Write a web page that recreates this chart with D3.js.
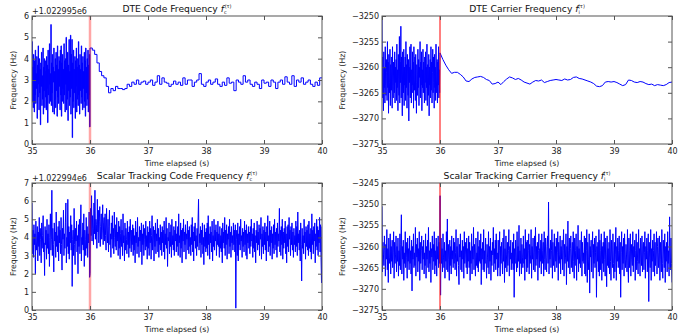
<!DOCTYPE html>
<html>
<head>
<meta charset="utf-8">
<script src="https://cdn.jsdelivr.net/npm/d3@7"></script>
<style>
  body { margin: 0; background: #fff; }
  svg { display: block; font-family: "DejaVu Sans", sans-serif; }
</style>
</head>
<body>
<svg id="chart" width="694" height="335"></svg>
<script>
// ---- data ----
const timeTicks = [35, 36, 37, 38, 39, 40];
const eventTime = 36;
const codeTicksTop = [0, 1, 2, 3, 4, 5, 6];
const codeTicksBottom = [0, 1, 2, 3, 4, 5, 6, 7];
const carrierTicksTop = [-3275, -3270, -3265, -3260, -3255, -3250];
const carrierTicksBottom = [-3275, -3270, -3265, -3260, -3255, -3250, -3245];

// DTE code frequency (offset +1.022995e6), 35-36 s before DTE starts
const dteCodeNoise = [
  4.8, 2.0, 3.6, 1.7, 4.2, 2.9, 1.5, 3.9, 2.3, 4.4, 1.9, 3.3, 2.6, 4.1, 1.2, 3.7, 2.2, 4.6, 2.8, 1.6,
  4.0, 2.4, 3.5, 0.9, 3.8, 2.7, 4.3, 1.8, 3.2, 2.1, 4.5, 1.4, 3.6, 2.5, 4.0, 1.7, 3.9, 2.2, 3.4, 1.6,
  4.1, 2.6, 3.7, 1.0, 4.4, 2.3, 3.5, 1.9, 4.7, 2.8, 3.3, 2.0, 5.6, 1.8, 3.8, 2.4, 4.2, 1.5, 3.6, 2.9,
  4.5, 1.4, 3.4, 2.1, 4.0, 1.7, 4.3, 2.5, 3.7, 1.3, 4.6, 2.2, 3.5, 1.9, 4.1, 2.7, 3.9, 1.6, 4.4, 2.3,
  4.6, 1.3, 3.8, 2.0, 4.2, 2.6, 3.5, 1.9, 4.7, 2.3, 3.9, 1.5, 4.0, 2.8, 5.0, 1.6, 3.6, 2.1, 4.3, 1.1,
  3.7, 2.5, 4.9, 1.8, 3.4, 2.2, 5.1, 1.4, 4.2, 2.6, 4.9, 0.3, 3.8, 2.0, 4.4, 1.7, 3.5, 2.4, 4.1, 1.2,
  3.9, 2.7, 4.5, 1.5, 3.6, 2.1, 4.0, 1.8, 4.8, 2.3, 3.7, 1.4, 4.2, 2.5, 3.5, 1.9, 4.6, 2.2, 3.8, 1.6,
  4.1, 2.6, 3.4, 1.7, 4.3, 2.0, 3.9, 1.3, 4.5, 2.4, 3.6, 1.8, 4.0, 2.1, 4.4, 1.5, 3.7, 2.3, 4.2, 0.8
];
// DTE code frequency, 36-40 s
const dteCodeTrack = [
  4.5, 4.4, 4.2, 3.8, 3.4, 3.2, 3.1, 2.7, 2.4, 2.6, 2.5, 2.7, 2.6, 2.6, 2.55, 2.6, 2.8, 2.7, 2.9, 2.8,
  3.0, 2.8, 2.9, 2.95, 2.8, 2.9, 3.0, 2.75, 2.9, 3.2, 2.8, 3.1, 2.9, 2.85, 2.7, 2.8, 2.95, 2.8, 2.9, 2.75,
  3.1, 2.8, 3.0, 3.0, 2.7, 2.9, 3.0, 3.3, 2.8, 2.7, 2.9, 3.0, 2.8, 2.9, 3.05, 2.8, 2.7, 2.9, 2.75, 3.1,
  2.85, 2.9, 2.5, 3.0, 2.9, 2.8, 3.2, 2.9, 3.0, 2.8, 2.7, 2.9, 2.8, 2.6, 3.0, 2.85, 2.9, 2.7, 3.0, 2.9,
  2.6, 2.9, 3.0, 2.8, 3.15, 2.9, 2.8, 3.2, 2.7, 3.0, 2.9, 3.1, 2.8, 2.9, 3.0, 2.8, 2.7, 2.9, 2.75, 3.1, 3.1
];

// DTE carrier frequency, 35-36 s
const dteCarrierNoise = [
  -3250.5, -3266, -3258, -3263, -3268.5, -3257, -3264, -3260, -3267, -3256, -3263.5, -3265.5, -3258.5, -3261, -3266.5, -3255, -3264, -3259, -3269, -3257.5,
  -3263, -3265, -3256.5, -3267.5, -3259.5, -3262, -3264.5, -3258, -3268, -3256, -3263.5, -3266, -3259, -3261.5, -3265, -3257, -3267, -3260, -3263, -3258.5,
  -3266.5, -3255.5, -3264, -3260.5, -3268.5, -3257.5, -3262.5, -3265.5, -3254, -3267, -3259, -3263, -3252, -3266, -3258, -3264.5, -3269.5, -3257, -3262, -3265,
  -3256.5, -3267.5, -3260, -3263.5, -3258, -3266.5, -3255, -3264, -3259.5, -3268, -3257.5, -3262.5, -3265.5, -3258.5, -3270.5, -3260, -3263, -3256, -3266, -3259,
  -3255.5, -3267, -3260.5, -3263.5, -3257, -3265, -3259, -3268, -3256, -3262.5, -3264.5, -3258, -3266.5, -3257.5, -3263, -3269, -3259.5, -3261.5, -3265.5, -3256.5,
  -3264, -3258.5, -3267.5, -3260, -3262, -3255, -3266, -3259, -3263.5, -3257, -3268.5, -3260.5, -3264, -3256.5, -3265, -3259, -3262.5, -3267, -3258, -3263,
  -3257, -3266.5, -3260, -3264, -3255.5, -3267.5, -3259.5, -3262, -3265.5, -3257.5, -3269.5, -3260, -3263.5, -3258.5, -3266, -3256, -3264.5, -3259, -3267, -3261,
  -3256.5, -3265, -3258, -3263, -3268, -3257.5, -3264, -3260, -3266.5, -3255.5, -3262.5, -3265, -3258.5, -3267, -3259, -3263.5, -3256, -3266, -3260.5, -3265
];
// DTE carrier frequency, 36-40 s
const dteCarrierTrack = [
  -3257.2, -3258.5, -3259.6, -3260.5, -3261.2, -3261.0, -3261.0, -3261.4, -3261.9, -3262.7, -3262.8, -3262.3, -3262.0, -3261.9, -3261.8, -3262.0, -3262.4, -3262.6, -3263.3, -3263.2,
  -3262.9, -3263.4, -3262.8, -3262.3, -3261.9, -3262.1, -3262.4, -3262.2, -3262.5, -3262.9, -3263.1, -3263.3, -3262.9, -3262.6, -3262.7, -3262.5, -3263.0, -3262.8, -3262.6, -3262.5,
  -3262.4, -3262.5, -3262.6, -3262.3, -3262.5, -3262.4, -3262.0, -3261.9, -3262.2, -3262.3, -3262.5, -3262.7, -3262.9, -3263.2, -3263.7, -3263.8, -3263.6, -3262.9, -3262.8, -3262.9,
  -3262.8, -3263.0, -3263.3, -3263.6, -3263.4, -3262.5, -3262.6, -3262.9, -3263.0, -3262.8, -3262.9, -3263.2, -3263.4, -3263.3, -3263.6, -3263.4, -3263.5, -3263.6, -3263.4, -3263.0, -3262.9
];

// Scalar tracking code frequency (offset +1.022994e6), 35-40 s
const scalarCode = [
  5.9, 3.1, 4.4, 2.9, 4.7, 3.6, 4.2, 2.0, 4.9, 3.3, 3.8, 4.6, 2.7, 4.3, 3.5, 5.1, 3.0, 4.5, 3.9, 2.6, 4.8, 3.4, 4.1, 5.2, 3.2, 3.7, 1.9, 4.6, 3.6, 4.4,
  2.8, 5.0, 3.4, 4.2, 3.1, 4.7, 2.4, 4.0, 5.3, 3.3, 3.9, 6.6, 3.0, 4.5, 3.6, 2.1, 4.8, 3.8, 4.3, 2.9, 5.4, 3.5, 4.1, 3.2, 4.6, 2.7, 4.9, 3.7, 4.4, 3.1,
  5.1, 3.6, 2.2, 4.5, 3.9, 5.5, 3.0, 4.2, 3.4, 4.8, 5.9, 2.6, 4.0, 3.5, 6.1, 3.1, 4.6, 2.8, 4.3, 3.7, 5.2, 3.3, 4.7, 1.3, 3.9, 4.4, 3.0, 5.6, 3.6, 2.5,
  4.5, 3.8, 4.9, 3.2, 4.1, 2.0, 4.7, 3.5, 5.0, 3.1, 4.3, 5.8, 2.7, 4.0, 3.6, 4.8, 3.3, 5.3, 2.4, 4.4, 3.9, 3.0, 5.1, 3.4, 4.6, 2.9, 4.2, 3.7, 5.4, 1.8,
  2.0, 5.6, 4.1, 6.3, 3.8, 5.2, 4.5, 3.6, 5.9, 4.2, 6.6, 3.9, 5.0, 4.7, 3.4, 6.1, 4.3, 5.5, 3.7, 4.9, 5.7, 3.5, 4.6, 5.3, 3.9, 4.4, 5.8, 3.6, 4.8, 5.1,
  3.8, 5.3, 4.1, 3.3, 5.6, 4.4, 3.7, 5.0, 3.2, 4.6, 5.5, 3.6, 4.2, 2.9, 4.8, 3.9, 5.2, 3.4, 4.5, 3.1, 5.4, 4.0, 3.5, 4.7, 3.3, 5.1, 3.8, 4.3, 3.0, 4.9,
  3.4, 4.6, 2.8, 4.2, 5.0, 3.5, 4.4, 3.0, 5.3, 3.7, 4.1, 2.7, 4.8, 3.3, 4.5, 3.9, 3.1, 4.9, 3.6, 4.3, 2.9, 4.6, 3.4, 5.0, 3.8, 3.2, 4.4, 3.6, 4.7, 3.0,
  4.5, 3.3, 4.1, 2.6, 4.9, 3.7, 4.3, 3.1, 5.1, 3.5, 4.0, 2.9, 4.6, 3.8, 4.4, 3.2, 4.8, 2.5, 4.2, 3.6, 4.7, 3.0, 4.5, 3.9, 3.3, 4.9, 3.5, 4.1, 2.8, 4.6,
  3.4, 4.3, 3.0, 4.9, 3.7, 4.5, 2.8, 4.1, 5.2, 3.3, 3.9, 4.6, 2.7, 4.4, 3.5, 4.8, 3.1, 4.2, 3.8, 5.0, 3.2, 4.5, 2.9, 4.0, 3.6, 4.7, 3.3, 4.3, 3.0, 4.6,
  3.7, 4.4, 3.2, 4.9, 2.8, 4.2, 3.6, 5.1, 3.4, 4.5, 2.4, 4.0, 3.8, 4.8, 3.1, 4.3, 3.5, 4.7, 2.9, 5.0, 3.6, 4.1, 3.3, 4.6, 3.0, 4.4, 3.8, 4.9, 3.2, 4.2,
  3.5, 4.6, 3.0, 5.3, 3.7, 4.1, 2.9, 4.8, 3.4, 4.4, 2.6, 4.5, 3.8, 5.0, 3.2, 4.3, 3.6, 4.7, 2.8, 4.2, 3.9, 4.9, 3.3, 4.4, 3.1, 4.6, 3.5, 4.0, 3.0, 4.7,
  3.6, 5.1, 3.2, 4.3, 2.7, 4.6, 3.8, 4.8, 3.4, 4.1, 3.0, 4.5, 3.5, 4.9, 6.1, 3.3, 4.2, 3.7, 4.6, 2.9, 4.4, 3.6, 4.8, 3.1, 4.0, 2.5, 4.7, 3.5, 4.3, 3.2,
  4.5, 3.4, 4.8, 3.0, 5.2, 3.6, 4.2, 2.8, 4.6, 3.7, 4.3, 3.2, 4.9, 2.7, 4.1, 3.5, 5.0, 3.3, 4.4, 3.8, 4.7, 3.0, 4.3, 3.6, 4.9, 3.5, 4.2, 2.9, 4.6, 3.4,
  4.1, 3.2, 4.5, 2.6, 4.8, 3.7, 4.3, 3.4, 5.1, 3.0, 4.4, 3.6, 4.7, 2.8, 4.2, 3.9, 4.6, 3.1, 5.0, 3.5, 4.3, 2.9, 4.6, 3.7, 4.1, 3.3, 4.8, 3.6, 4.4, 3.2,
  4.7, 0.1, 3.9, 4.4, 3.0, 4.8, 2.7, 4.2, 3.6, 4.6, 3.3, 5.0, 3.8, 4.1, 2.9, 4.5, 3.5, 4.3, 3.2, 4.9, 3.6, 4.4, 3.0, 4.7, 2.8, 4.2, 3.7, 4.6, 3.4, 4.3,
  3.1, 4.6, 3.5, 5.0, 3.8, 4.2, 2.9, 4.5, 3.4, 4.8, 3.2, 4.1, 2.6, 4.4, 3.7, 4.9, 3.3, 4.3, 3.6, 4.7, 3.0, 4.5, 3.9, 5.1, 2.8, 4.2, 3.5, 4.6, 3.1, 4.4,
  3.6, 4.8, 3.3, 4.3, 2.7, 4.6, 3.8, 5.2, 3.2, 4.1, 3.5, 4.9, 3.0, 4.4, 3.7, 4.6, 2.8, 4.2, 3.4, 4.7, 3.1, 5.0, 3.6, 4.3, 3.3, 4.5, 2.9, 4.8, 3.5, 4.2,
  3.8, 5.6, 3.2, 4.4, 3.0, 4.6, 3.6, 5.0, 2.8, 4.3, 3.4, 4.5, 3.7, 4.9, 3.1, 4.2, 2.6, 4.6, 3.5, 4.7, 3.2, 5.1, 3.9, 4.4, 3.0, 4.6, 3.6, 4.8, 3.3, 4.3,
  2.9, 4.5, 3.6, 4.1, 3.2, 4.9, 3.5, 4.6, 3.0, 5.4, 3.7, 4.2, 3.3, 4.4, 2.7, 4.8, 3.6, 1.6, 4.5, 3.4, 4.1, 3.1, 5.0, 3.7, 4.3, 2.8, 4.6, 3.5, 4.4, 3.3,
  4.7, 3.0, 4.9, 3.4, 4.2, 3.2, 4.5, 2.8, 5.3, 3.6, 4.4, 3.1, 4.6, 3.8, 4.8, 2.6, 4.2, 3.5, 5.0, 3.3, 4.6, 3.0, 4.4, 3.7, 5.1, 3.2, 4.7, 2.9, 1.5, 4.6
];

// Scalar tracking carrier frequency, 35-40 s
const scalarCarrier = [
  -3250.5, -3266, -3259, -3262, -3264.5, -3257.5, -3261, -3267, -3259.5, -3263, -3256, -3265.5, -3260.5, -3268.5, -3258, -3262.5, -3264, -3257, -3266.5, -3260, -3263.5, -3258.5, -3265, -3261.5, -3256.5, -3267.5, -3259, -3264, -3262, -3257.5,
  -3266, -3260, -3263.5, -3258, -3267, -3261, -3264.5, -3257, -3265.5, -3259.5, -3252.5, -3266.5, -3260, -3263, -3258.5, -3268, -3261.5, -3264, -3256.5, -3265, -3259, -3262.5, -3267.5, -3258, -3263.5, -3260.5, -3265.5, -3257.5, -3264, -3261,
  -3266.5, -3258.5, -3270.5, -3260, -3263, -3257, -3265, -3261.5, -3264.5, -3255.5, -3267, -3259.5, -3262.5, -3258, -3266, -3260.5, -3263.5, -3256.5, -3268, -3259, -3264, -3261, -3257.5, -3265.5, -3260, -3263, -3258.5, -3266.5, -3261.5, -3264.5,
  -3257, -3267.5, -3260, -3263, -3258.5, -3265, -3255.5, -3266, -3261, -3264, -3259, -3268.5, -3260.5, -3262.5, -3257.5, -3265.5, -3259.5, -3263.5, -3256.5, -3266.5, -3261, -3264.5, -3258, -3267, -3260, -3263, -3257.5, -3265, -3259, -3264,
  -3248, -3271.5, -3258, -3264, -3260.5, -3266, -3257, -3262.5, -3265, -3259, -3267.5, -3261, -3263.5, -3256.5, -3265.5, -3253.5, -3266, -3259.5, -3263, -3268, -3258.5, -3264.5, -3260, -3266.5, -3257.5, -3263, -3261, -3265, -3258, -3264,
  -3259, -3265.5, -3261.5, -3256, -3267, -3260, -3263.5, -3258, -3264.5, -3269, -3259.5, -3262.5, -3257, -3265.5, -3261, -3266, -3258.5, -3263, -3260, -3267.5, -3256.5, -3264, -3259, -3262, -3265, -3258, -3266.5, -3260.5, -3263.5, -3257.5,
  -3265, -3259, -3268, -3261, -3264, -3257, -3266.5, -3260, -3263, -3255.5, -3265.5, -3259.5, -3262.5, -3267, -3258, -3264.5, -3261.5, -3265, -3256.5, -3266, -3260, -3263.5, -3258.5, -3264, -3257, -3269, -3260.5, -3263, -3259, -3265.5,
  -3256, -3266, -3261, -3264, -3258, -3263, -3267.5, -3259.5, -3262.5, -3265, -3256.5, -3266.5, -3260, -3263.5, -3258, -3268, -3261, -3264.5, -3259, -3262, -3255.5, -3266, -3260.5, -3264, -3258.5, -3265.5, -3257, -3263, -3261.5, -3267,
  -3258.5, -3265, -3261, -3256.5, -3267, -3260, -3264, -3259, -3262.5, -3266.5, -3258, -3263.5, -3256, -3268.5, -3260.5, -3265, -3257.5, -3262, -3266, -3259, -3264.5, -3261, -3256, -3267, -3260, -3263, -3258.5, -3265.5, -3261.5, -3264,
  -3259, -3265.5, -3257, -3272, -3260.5, -3264, -3258.5, -3262.5, -3266, -3256.5, -3265, -3260, -3263.5, -3255, -3267, -3261, -3264, -3258, -3266.5, -3259.5, -3262.5, -3265, -3257.5, -3264, -3260.5, -3268, -3256, -3263, -3259, -3266,
  -3258.5, -3265, -3261, -3257, -3266.5, -3259.5, -3264, -3262, -3256, -3267.5, -3260, -3263, -3258, -3265.5, -3261.5, -3257.5, -3266, -3255.5, -3264.5, -3260, -3263, -3259, -3268, -3261, -3257, -3265, -3260.5, -3263.5, -3258.5, -3266.5,
  -3257, -3264, -3261, -3259, -3267, -3256.5, -3263, -3265.5, -3258, -3262.5, -3266, -3260, -3257.5, -3264, -3249.5, -3266.5, -3260.5, -3263, -3258.5, -3265, -3261, -3256, -3267.5, -3259, -3264.5, -3262, -3257, -3266, -3260, -3263.5,
  -3258, -3265, -3261.5, -3256.5, -3268, -3259, -3264, -3262, -3257.5, -3266.5, -3260, -3263, -3258.5, -3265.5, -3261, -3256, -3267, -3259.5, -3264, -3262.5, -3257, -3269, -3260, -3263.5, -3254, -3265, -3261, -3258, -3266.5, -3260.5,
  -3257.5, -3265, -3262, -3259, -3266, -3256.5, -3263.5, -3267.5, -3258, -3264.5, -3261, -3257, -3268, -3260, -3263, -3255, -3266, -3260.5, -3264, -3258.5, -3265, -3262, -3256.5, -3267, -3259, -3263.5, -3261.5, -3264, -3257.5, -3266.5,
  -3258, -3267, -3261, -3256, -3268.5, -3259, -3263, -3265.5, -3257, -3271, -3260, -3262.5, -3258.5, -3266, -3261, -3256.5, -3267.5, -3259.5, -3264, -3258, -3265, -3261.5, -3257.5, -3272, -3260, -3263.5, -3259, -3266, -3256, -3267,
  -3258.5, -3265.5, -3261, -3257, -3268, -3260, -3264, -3259, -3266, -3256.5, -3263, -3267, -3258, -3262, -3269.5, -3257.5, -3264.5, -3260.5, -3265, -3259, -3266.5, -3256, -3263.5, -3268, -3258.5, -3262.5, -3265, -3257, -3264, -3267.5,
  -3259, -3266, -3262, -3255.5, -3268, -3260, -3263.5, -3258, -3265, -3261, -3257.5, -3266.5, -3259, -3272, -3261.5, -3256.5, -3265.5, -3260, -3264, -3258, -3267, -3257, -3263, -3265, -3259.5, -3262, -3266, -3256, -3264.5, -3268.5,
  -3258, -3265, -3261, -3257, -3267, -3259.5, -3263, -3264.5, -3256.5, -3266, -3260, -3262.5, -3258.5, -3268, -3261, -3257, -3265.5, -3259, -3263.5, -3266.5, -3256, -3264, -3260.5, -3267, -3258, -3262, -3264.5, -3257.5, -3266, -3260,
  -3259, -3265.5, -3261.5, -3256.5, -3267.5, -3260, -3263, -3258, -3266, -3261, -3257, -3273, -3259, -3262.5, -3265, -3256, -3268, -3260.5, -3263.5, -3258.5, -3266, -3261, -3257, -3267, -3259, -3264.5, -3262, -3256.5, -3266.5, -3260,
  -3258, -3265, -3261.5, -3257.5, -3268, -3259, -3263, -3266, -3256, -3264, -3267.5, -3258.5, -3262, -3265, -3257, -3268.5, -3260, -3263.5, -3259, -3266, -3256.5, -3264, -3261, -3267, -3253, -3262.5, -3265.5, -3258, -3264, -3268.5
];

// ---- helpers ----
// spread samples evenly between t0 and t1 (endpoint optional)
function samples(vals, t0, t1, inclusiveEnd) {
  const n = inclusiveEnd ? vals.length - 1 : vals.length;
  return vals.map((v, i) => ({t: t0 + i * (t1 - t0) / n, v: v}));
}

const panels = [
  {
    box: {left: 32, right: 322, top: 16, bottom: 144},
    yDomain: [0, 6], yTicks: codeTicksTop,
    title: "DTE Code Frequency ", sub: "c", offset: "+1.022995e6",
    data: samples(dteCodeNoise, 35, 36, false).concat(samples(dteCodeTrack, 36, 40, true)),
    curve: d3.curveStepAfter, marker: {color: "#ff0000", opacity: 0.35, width: 2.5}
  },
  {
    box: {left: 382, right: 672, top: 16, bottom: 144},
    yDomain: [-3275, -3250], yTicks: carrierTicksTop,
    title: "DTE Carrier Frequency ", sub: "i", offset: null,
    data: samples(dteCarrierNoise, 35, 36, false).concat(samples(dteCarrierTrack, 36, 40, true)),
    curve: d3.curveLinear, marker: {color: "#ff0000", opacity: 1, width: 1}
  },
  {
    box: {left: 32, right: 322, top: 183, bottom: 310},
    yDomain: [0, 7], yTicks: codeTicksBottom,
    title: "Scalar Tracking Code Frequency ", sub: "c", offset: "+1.022994e6",
    data: samples(scalarCode, 35, 40, true),
    curve: d3.curveLinear, marker: {color: "#ff0000", opacity: 0.35, width: 2.5}
  },
  {
    box: {left: 382, right: 672, top: 183, bottom: 310},
    yDomain: [-3275, -3245], yTicks: carrierTicksBottom,
    title: "Scalar Tracking Carrier Frequency ", sub: "i", offset: null,
    data: samples(scalarCarrier, 35, 40, true),
    curve: d3.curveLinear, marker: {color: "#ff0000", opacity: 1, width: 1}
  }
];

const svg = d3.select("#chart");
const frameColor = "#555";

panels.forEach((p, idx) => {
  const b = p.box;
  const x = d3.scaleLinear().domain([35, 40]).range([b.left, b.right]);
  const y = d3.scaleLinear().domain(p.yDomain).range([b.bottom, b.top]);
  const g = svg.append("g");

  const clipId = "clip" + idx;
  svg.append("clipPath").attr("id", clipId)
    .append("rect")
    .attr("x", b.left).attr("y", b.top)
    .attr("width", b.right - b.left).attr("height", b.bottom - b.top);

  // data line
  const line = d3.line().x(d => x(d.t)).y(d => y(d.v)).curve(p.curve);
  g.append("path")
    .datum(p.data)
    .attr("clip-path", `url(#${clipId})`)
    .attr("fill", "none")
    .attr("stroke", "#0000ff")
    .attr("stroke-width", 1)
    .attr("d", line);

  // event marker at 36 s
  g.append("line")
    .attr("x1", x(eventTime)).attr("x2", x(eventTime))
    .attr("y1", b.top).attr("y2", b.bottom)
    .attr("stroke", p.marker.color)
    .attr("stroke-opacity", p.marker.opacity)
    .attr("stroke-width", p.marker.width);

  // axes, ticks pointing inward on all sides
  const styleAxis = sel => {
    sel.select(".domain").remove();
    sel.selectAll(".tick line").attr("stroke", frameColor);
    sel.selectAll(".tick text").attr("fill", "#222").style("font-size", "8px")
      .style("font-family", "DejaVu Sans, sans-serif");
  };
  g.append("g").attr("transform", `translate(0,${b.bottom})`)
    .call(d3.axisBottom(x).tickValues(timeTicks).tickFormat(d3.format("d")).tickSizeInner(-4).tickSizeOuter(0).tickPadding(4))
    .call(styleAxis);
  g.append("g").attr("transform", `translate(0,${b.top})`)
    .call(d3.axisTop(x).tickValues(timeTicks).tickFormat("").tickSizeInner(-4).tickSizeOuter(0))
    .call(styleAxis);
  g.append("g").attr("transform", `translate(${b.left},0)`)
    .call(d3.axisLeft(y).tickValues(p.yTicks).tickFormat(d3.format("d")).tickSizeInner(-4).tickSizeOuter(0).tickPadding(3))
    .call(styleAxis);
  g.append("g").attr("transform", `translate(${b.right},0)`)
    .call(d3.axisRight(y).tickValues(p.yTicks).tickFormat("").tickSizeInner(-4).tickSizeOuter(0))
    .call(styleAxis);

  // frame
  g.append("rect")
    .attr("x", b.left).attr("y", b.top)
    .attr("width", b.right - b.left).attr("height", b.bottom - b.top)
    .attr("fill", "none").attr("stroke", frameColor).attr("stroke-width", 1);

  // title with f_sub^(τ)
  const cx = (b.left + b.right) / 2;
  const title = g.append("text")
    .attr("x", cx).attr("y", b.top - 4)
    .attr("text-anchor", "middle")
    .style("font-size", "9.2px").attr("fill", "#111");
  title.append("tspan").text(p.title);
  title.append("tspan").style("font-style", "italic").text("f");
  title.append("tspan").style("font-size", "5px").attr("dy", 2).text(p.sub);
  title.append("tspan").style("font-size", "5px").attr("dy", -6).attr("dx", -2).text("(τ)");

  if (p.offset) {
    g.append("text")
      .attr("x", b.left).attr("y", b.top - 2)
      .style("font-size", "8px").attr("fill", "#222")
      .text(p.offset);
  }

  // axis labels
  g.append("text")
    .attr("x", cx).attr("y", b.bottom + 22)
    .attr("text-anchor", "middle")
    .style("font-size", "7.8px").attr("fill", "#222")
    .text("Time elapsed (s)");
  g.append("text")
    .attr("transform", `translate(${b.left - (idx % 2 === 0 ? 16 : 37)},${(b.top + b.bottom) / 2}) rotate(-90)`)
    .attr("text-anchor", "middle")
    .style("font-size", "7.8px").attr("fill", "#222")
    .text("Frequency (Hz)");
});
</script>
</body>
</html>
